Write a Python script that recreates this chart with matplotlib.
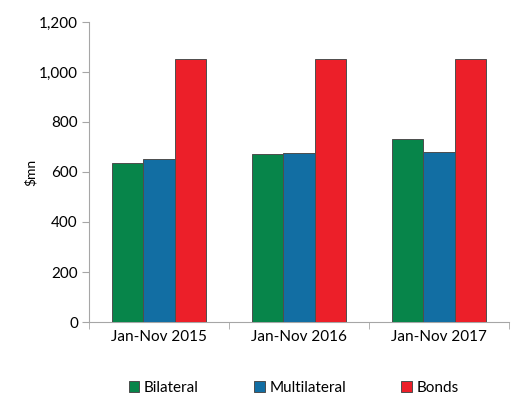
import matplotlib.pyplot as plt
import numpy as np

categories = ["Jan-Nov 2015", "Jan-Nov 2016", "Jan-Nov 2017"]
bilateral = [637, 671, 733]
multilateral = [651, 675, 681]
bonds = [1051, 1051, 1050]

series = [
    ("Bilateral", bilateral, "#07854a"),
    ("Multilateral", multilateral, "#126ea3"),
    ("Bonds", bonds, "#ec1f29"),
]

plt.rcParams["font.family"] = ["Lato", "DejaVu Sans"]

fig = plt.figure(figsize=(5.15, 3.98), dpi=100)
ax = fig.add_axes([89 / 515, 76 / 398, 420 / 515, 300 / 398])

x = np.arange(len(categories))
w = 0.222
for i, (name, vals, color) in enumerate(series):
    ax.bar(x + (i - 1) * w, vals, width=w, color=color, edgecolor="#4d4d4d",
           linewidth=0.7, label=name, zorder=3)

ax.set_xlim(-0.5, 2.5)
ax.set_ylim(0, 1200)
ax.set_yticks(range(0, 1201, 200))
ax.set_yticklabels([f"{v:,}" for v in range(0, 1201, 200)], fontsize=11)
ax.set_ylabel("$mn", fontsize=10)
ax.yaxis.set_label_coords(-0.125, 0.5)

ax.set_xticks(x)
ax.set_xticklabels(categories, fontsize=11)
ax.tick_params(axis="x", which="major", length=0, pad=6)
ax.set_xticks([-0.5, 0.5, 1.5, 2.5], minor=True)
ax.tick_params(axis="x", which="minor", length=5, color="#a6a6a6")
ax.tick_params(axis="y", length=5, color="#a6a6a6", pad=3)

for s in ["top", "right"]:
    ax.spines[s].set_visible(False)
for s in ["left", "bottom"]:
    ax.spines[s].set_color("#a6a6a6")

fig.legend(loc="center", bbox_to_anchor=(0.57, 0.025), ncol=3, frameon=False,
           fontsize=11, handlelength=0.7, handleheight=0.7, handletextpad=0.3,
           columnspacing=3.6, borderpad=0)

fig.savefig("out.png", dpi=100)
